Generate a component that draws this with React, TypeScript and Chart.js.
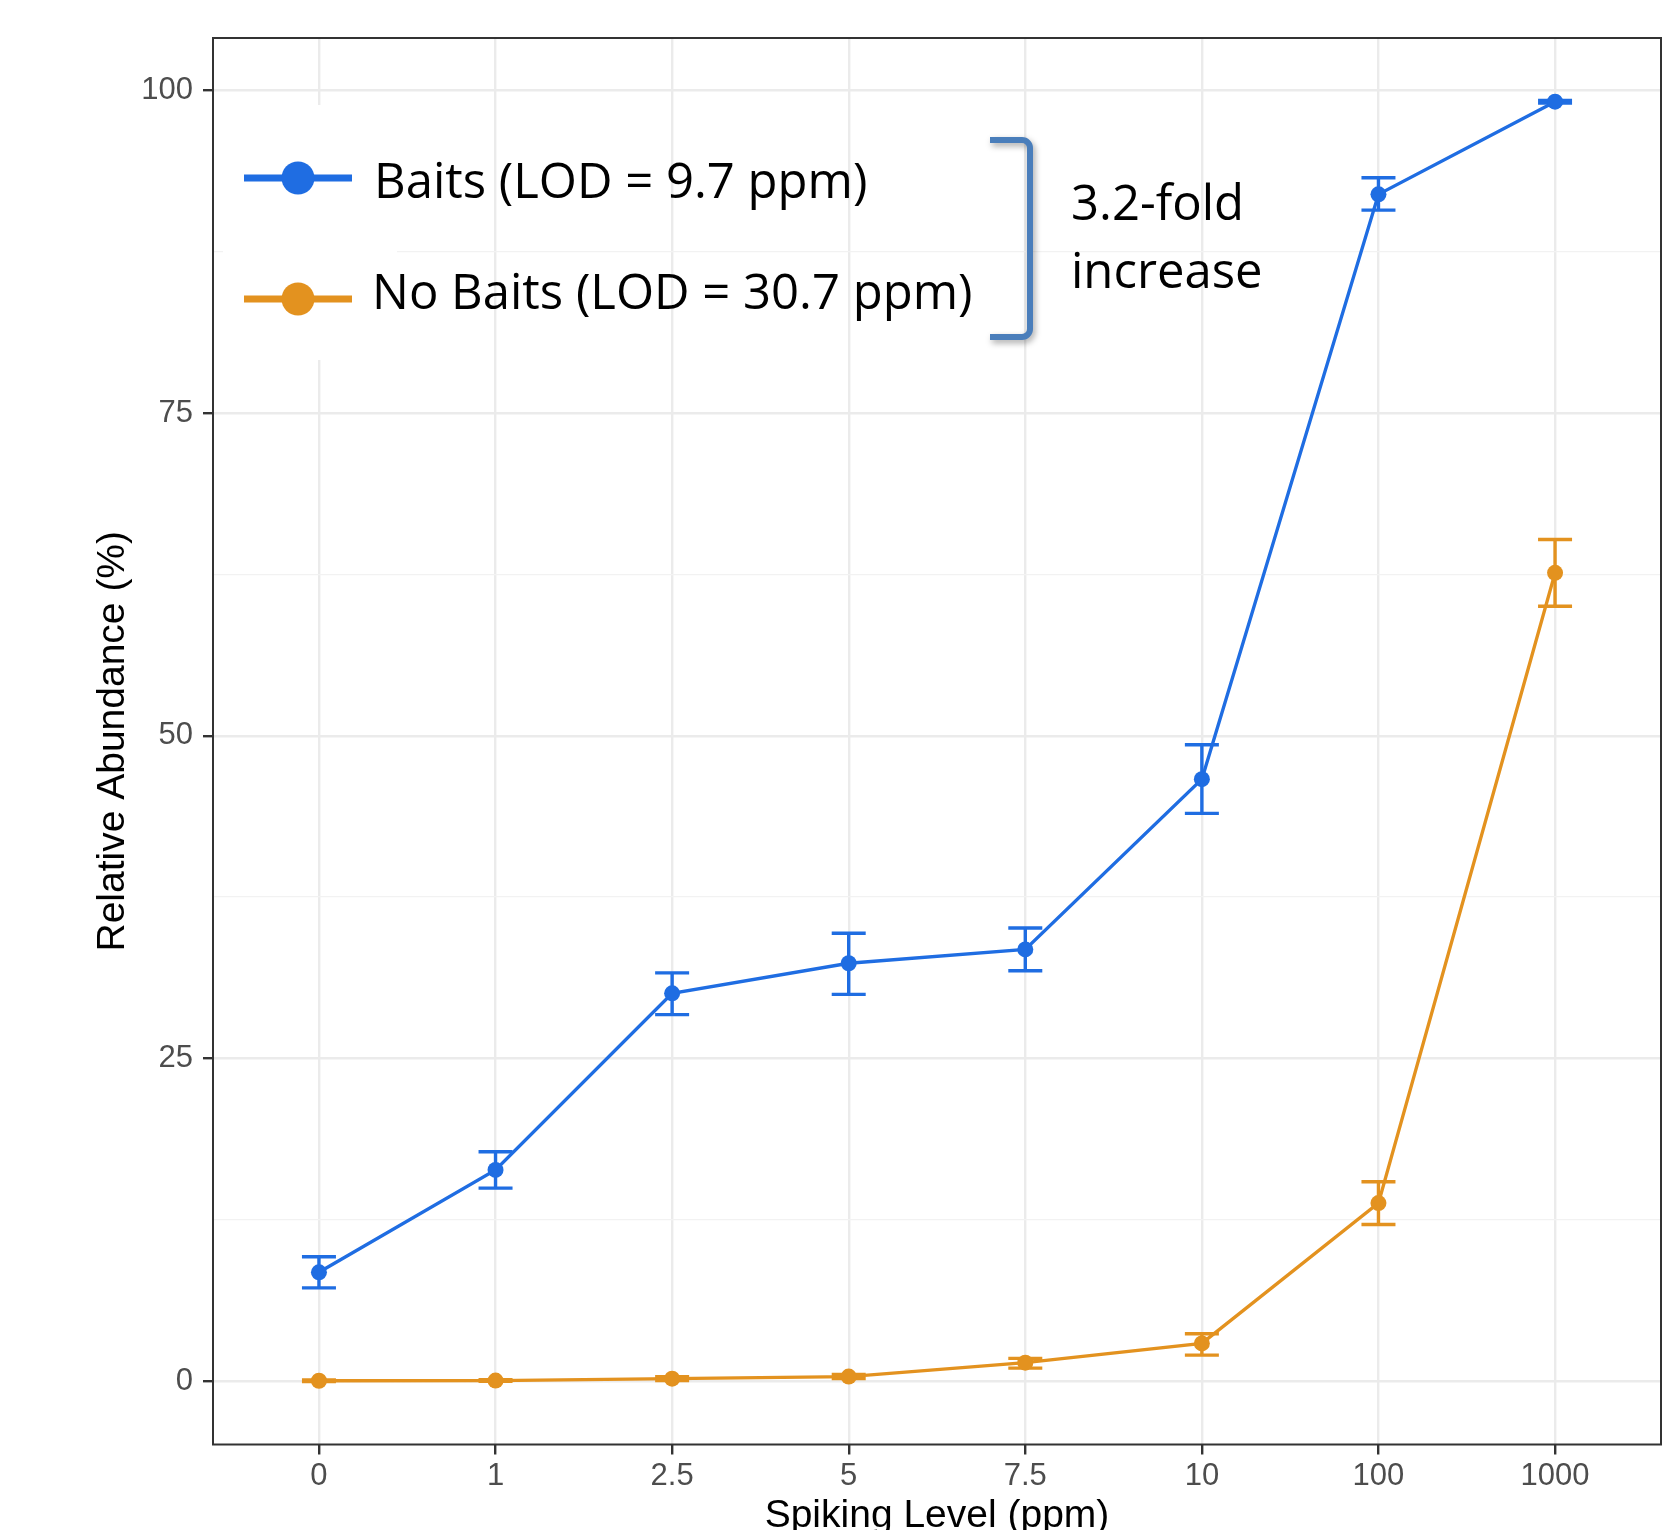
import React, { useEffect, useRef } from 'react';
import { Chart, registerables } from 'chart.js';

Chart.register(...registerables);

// ---------- data ----------
const spikingLevels = ['0', '1', '2.5', '5', '7.5', '10', '100', '1000'];

const baitsMean = [8.44, 16.37, 30.05, 32.38, 33.45, 46.64, 91.94, 99.12];
const baitsLow = [7.23, 14.96, 28.4, 29.97, 31.8, 43.99, 90.72, 99.02];
const baitsHigh = [9.64, 17.78, 31.63, 34.7, 35.11, 49.3, 93.23, 99.22];

const noBaitsMean = [0.04, 0.05, 0.2, 0.36, 1.44, 2.93, 13.8, 62.62];
const noBaitsLow = [-0.02, -0.01, 0.05, 0.2, 1.02, 2.02, 12.14, 60.03];
const noBaitsHigh = [0.1, 0.11, 0.35, 0.52, 1.77, 3.68, 15.45, 65.2];

const yGridValues = [0, 12.5, 25, 37.5, 50, 62.5, 75, 87.5, 100];
const yMajorStep = 25;

const legendLabels = ['Baits (LOD = 9.7 ppm)', 'No Baits (LOD = 30.7 ppm)'];
const annotationLines = ['3.2-fold', 'increase'];
const xTitle = 'Spiking Level (ppm)';
const yTitle = 'Relative Abundance (%)';

// ---------- styles ----------
const BLUE = '#1F6DE2';
const ORANGE = '#E3921F';
const BRACKET = '#4A7EBB';
const AXIS_FONT = "'Liberation Sans', Arial, Helvetica, sans-serif";
const NOTE_FONT = "'Open Sans', 'Noto Sans', sans-serif";
const W = 1679;
const H = 1530;

const seriesColors = [BLUE, ORANGE];
const errorSets = [
  { low: baitsLow, high: baitsHigh },
  { low: noBaitsLow, high: noBaitsHigh },
];

const errorBarPlugin = {
  id: 'errorBars',
  beforeDatasetsDraw(chart: any) {
    const { ctx, scales } = chart;
    const xs = scales.x;
    const ys = scales.y;
    ctx.save();
    ctx.lineWidth = 3.4;
    ctx.lineCap = 'butt';
    errorSets.forEach((set, di) => {
      ctx.strokeStyle = seriesColors[di];
      set.low.forEach((lo, i) => {
        const hi = set.high[i];
        const x = xs.getPixelForValue(i);
        const yl = ys.getPixelForValue(lo);
        const yh = ys.getPixelForValue(hi);
        const cap = 17;
        ctx.beginPath();
        ctx.moveTo(x, yh);
        ctx.lineTo(x, yl);
        ctx.moveTo(x - cap, yh);
        ctx.lineTo(x + cap, yh);
        ctx.moveTo(x - cap, yl);
        ctx.lineTo(x + cap, yl);
        ctx.stroke();
      });
    });
    ctx.restore();
  },
};

const overlayPlugin = {
  id: 'overlay',
  afterDatasetsDraw(chart: any) {
    const { ctx, chartArea: ca } = chart;
    const L = ca.left;
    const T = ca.top;
    ctx.save();

    // white patch behind legend keys
    ctx.fillStyle = '#FFFFFF';
    ctx.fillRect(L + 10, T + 67, 174, 255);

    // legend keys
    const keyY = [T + 140, T + 261];
    seriesColors.forEach((c, i) => {
      ctx.strokeStyle = c;
      ctx.fillStyle = c;
      ctx.lineWidth = 7;
      ctx.lineCap = 'butt';
      ctx.beginPath();
      ctx.moveTo(L + 31, keyY[i]);
      ctx.lineTo(L + 139, keyY[i]);
      ctx.stroke();
      ctx.beginPath();
      ctx.arc(L + 85, keyY[i], 16.5, 0, Math.PI * 2);
      ctx.fill();
    });

    // legend labels
    ctx.fillStyle = '#000000';
    ctx.font = `49px ${NOTE_FONT}`;
    ctx.textAlign = 'left';
    ctx.textBaseline = 'alphabetic';
    ctx.fillText(legendLabels[0], L + 161, T + 160);
    ctx.fillText(legendLabels[1], L + 159, T + 271);

    // bracket with shadow
    ctx.save();
    ctx.shadowColor = 'rgba(0,0,0,0.35)';
    ctx.shadowBlur = 6;
    ctx.shadowOffsetX = 2;
    ctx.shadowOffsetY = 3;
    ctx.strokeStyle = BRACKET;
    ctx.lineWidth = 6;
    ctx.lineJoin = 'round';
    ctx.beginPath();
    const bx0 = L + 777;
    const bx1 = L + 817;
    const by0 = T + 102;
    const by1 = T + 299;
    ctx.moveTo(bx0, by0);
    ctx.lineTo(bx1 - 8, by0);
    ctx.arcTo(bx1, by0, bx1, by0 + 8, 8);
    ctx.lineTo(bx1, by1 - 8);
    ctx.arcTo(bx1, by1, bx1 - 8, by1, 8);
    ctx.lineTo(bx0, by1);
    ctx.stroke();
    ctx.restore();

    // annotation text
    ctx.fillStyle = '#000000';
    ctx.font = `49px ${NOTE_FONT}`;
    ctx.fillText(annotationLines[0], L + 858, T + 182);
    ctx.fillText(annotationLines[1], L + 858, T + 250);

    // panel border
    ctx.strokeStyle = '#333333';
    ctx.lineWidth = 2;
    ctx.strokeRect(ca.left, ca.top, ca.right - ca.left, ca.bottom - ca.top);
    ctx.restore();
  },
};

export default function App() {
  const canvasRef = useRef<HTMLCanvasElement | null>(null);

  useEffect(() => {
    const canvas = canvasRef.current;
    if (!canvas) return;
    const isMajor = (v: number) => Math.abs(v % yMajorStep) < 1e-9;
    const chart = new Chart(canvas, {
      type: 'line',
      data: {
        datasets: [
          {
            label: legendLabels[0],
            data: baitsMean.map((y, i) => ({ x: i, y })),
            borderColor: BLUE,
            backgroundColor: BLUE,
            borderWidth: 3.4,
            pointRadius: 8,
            pointBorderWidth: 0,
            pointBackgroundColor: BLUE,
            tension: 0,
          },
          {
            label: legendLabels[1],
            data: noBaitsMean.map((y, i) => ({ x: i, y })),
            borderColor: ORANGE,
            backgroundColor: ORANGE,
            borderWidth: 3.4,
            pointRadius: 8,
            pointBorderWidth: 0,
            pointBackgroundColor: ORANGE,
            tension: 0,
          },
        ],
      },
      options: {
        animation: false,
        responsive: false,
        devicePixelRatio: 1,
        layout: { padding: { top: 38, right: 18, left: 0, bottom: 0 } },
        plugins: {
          legend: { display: false },
          tooltip: { enabled: false },
        },
        scales: {
          x: {
            type: 'linear',
            min: -0.6,
            max: 7.6,
            afterBuildTicks: (s: any) => {
              s.ticks = spikingLevels.map((_, i) => ({ value: i }));
            },
            afterFit: (s: any) => {
              s.height = 85.5;
            },
            ticks: {
              callback: (v: any) => spikingLevels[v] ?? '',
              font: { family: AXIS_FONT, size: 31 },
              color: '#4D4D4D',
              padding: 3,
              autoSkip: false,
              maxRotation: 0,
            },
            grid: {
              color: '#EBEBEB',
              lineWidth: 2.4,
              tickColor: '#333333',
              tickWidth: 2.4,
              tickLength: 10,
              drawTicks: true,
            },
            border: { display: false },
            title: {
              display: true,
              text: xTitle,
              font: { family: AXIS_FONT, size: 39 },
              color: '#000000',
              padding: { top: 0, bottom: -10 },
            },
          },
          y: {
            type: 'linear',
            min: -4.9,
            max: 104.05,
            afterBuildTicks: (s: any) => {
              s.ticks = yGridValues.map((v) => ({ value: v }));
            },
            afterFit: (s: any) => {
              s.width = 213;
            },
            ticks: {
              callback: (v: any) => (isMajor(v) ? String(v) : ''),
              font: { family: AXIS_FONT, size: 31 },
              color: '#4D4D4D',
              padding: 10,
              autoSkip: false,
            },
            grid: {
              color: (c: any) => (isMajor(c.tick?.value ?? 0) ? '#EBEBEB' : '#F2F2F2'),
              lineWidth: (c: any) => (isMajor(c.tick?.value ?? 0) ? 2.4 : 1.3),
              tickColor: (c: any) => (isMajor(c.tick?.value ?? 0) ? '#333333' : 'rgba(0,0,0,0)'),
              tickWidth: 2.4,
              tickLength: 10,
              drawTicks: true,
            },
            border: { display: false },
            title: {
              display: true,
              text: yTitle,
              font: { family: AXIS_FONT, size: 39 },
              color: '#000000',
              padding: { top: 90, bottom: 0 },
            },
          },
        },
      },
      plugins: [errorBarPlugin, overlayPlugin],
    } as any);
    return () => chart.destroy();
  }, []);

  return (
    <div style={{ position: 'absolute', left: 0, top: 0, width: W, height: H, background: '#FFFFFF' }}>
      <canvas ref={canvasRef} width={W} height={H} style={{ display: 'block', width: W, height: H }} />
    </div>
  );
}
